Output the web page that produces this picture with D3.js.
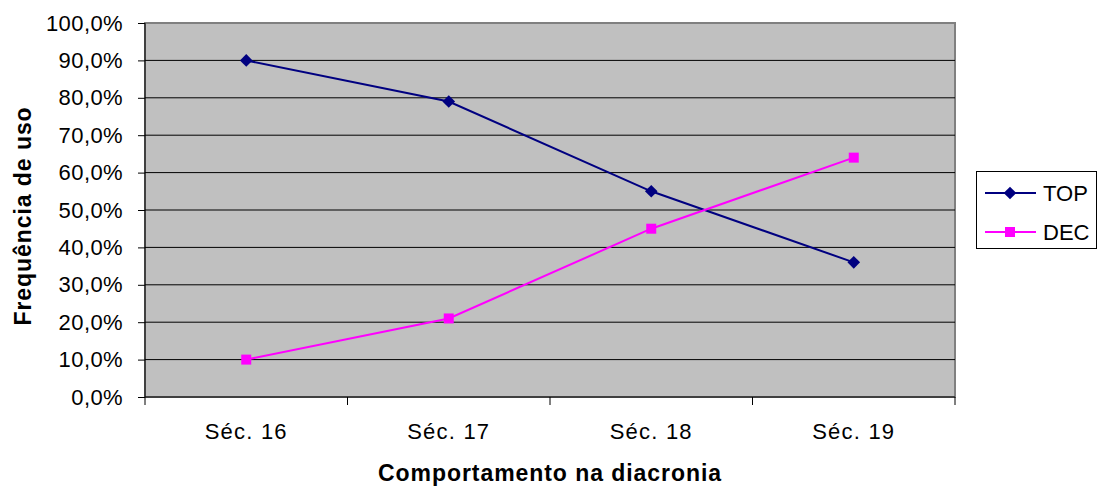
<!DOCTYPE html>
<html><head><meta charset="utf-8">
<script src="https://cdn.jsdelivr.net/npm/d3@7"></script>
<style>body{margin:0;background:#fff}svg{display:block}text{font-family:"Liberation Sans",Arial,sans-serif}</style>
</head><body>
<svg id="c" width="1100" height="490"></svg>
<script>
const categories = ["Séc. 16", "Séc. 17", "Séc. 18", "Séc. 19"];
const topValues = [90, 79, 55, 36];
const decValues = [10, 21, 45, 64];
const yTicks = [0,10,20,30,40,50,60,70,80,90,100];
const seriesNames = ["TOP", "DEC"];

const svg = d3.select("#c");
const L = 145, R = 955, T = 23, B = 397;
const x = d3.scaleBand().domain(categories).range([L, R]);
const y = d3.scaleLinear().domain([0, 100]).range([B, T]);
const fmt = v => v.toFixed(1).replace(".", ",") + "%";

svg.append("rect").attr("x", L).attr("y", T).attr("width", R - L).attr("height", B - T)
  .attr("fill", "#c0c0c0").attr("stroke", "#808080").attr("stroke-width", 2);

svg.append("g").selectAll("line").data(yTicks.filter(d => d > 0 && d < 100)).join("line")
  .attr("x1", L).attr("x2", R).attr("y1", d => y(d)).attr("y2", d => y(d))
  .attr("stroke", "#000").attr("stroke-width", 1);

// y axis
const ya = svg.append("g").attr("transform", `translate(${L},0)`)
  .call(d3.axisLeft(y).tickValues(yTicks).tickFormat(fmt).tickSize(7).tickPadding(15));
ya.select(".domain").attr("stroke", "#000").attr("d", `M0,${T}V${B}`);
ya.selectAll(".tick line").attr("stroke", "#000");
ya.selectAll("text").attr("font-size", 22).attr("fill", "#000").attr("letter-spacing", 0.4)
  .attr("font-family", "Liberation Sans, Arial, sans-serif");

// x axis
const xa = svg.append("g").attr("transform", `translate(0,${B})`)
  .call(d3.axisBottom(x).tickSize(0).tickPadding(26));
xa.select(".domain").attr("stroke", "#000").attr("d", `M${L},0H${R}`);
xa.selectAll("text").attr("font-size", 22).attr("fill", "#000").attr("letter-spacing", 1.2)
  .attr("font-family", "Liberation Sans, Arial, sans-serif");
const bounds = categories.map(c => x(c)).concat([R]);
svg.append("g").selectAll("line").data(bounds).join("line")
  .attr("x1", d => d).attr("x2", d => d).attr("y1", B).attr("y2", B + 8)
  .attr("stroke", "#000");

const cx = c => x(c) + x.bandwidth() / 2;
const line = d3.line().x((d, i) => cx(categories[i])).y(d => y(d));

svg.append("path").datum(topValues).attr("d", line).attr("fill", "none")
  .attr("stroke", "#000080").attr("stroke-width", 2);
svg.append("path").datum(decValues).attr("d", line).attr("fill", "none")
  .attr("stroke", "#ff00ff").attr("stroke-width", 2);

svg.append("g").selectAll("path").data(topValues).join("path")
  .attr("transform", (d, i) => `translate(${cx(categories[i])},${y(d)}) rotate(45)`)
  .attr("d", d3.symbol().type(d3.symbolSquare).size(80)).attr("fill", "#000080");
svg.append("g").selectAll("rect").data(decValues).join("rect")
  .attr("x", (d, i) => cx(categories[i]) - 5).attr("y", d => y(d) - 5)
  .attr("width", 10).attr("height", 10).attr("fill", "#ff00ff");

// axis titles
svg.append("text").attr("x", 550).attr("y", 481).attr("text-anchor", "middle")
  .attr("font-size", 23).attr("font-weight", "bold").attr("letter-spacing", 0.94)
  .text("Comportamento na diacronia");
svg.append("text").attr("transform", "translate(31,216) rotate(-90)").attr("text-anchor", "middle")
  .attr("font-size", 23).attr("font-weight", "bold").attr("letter-spacing", 0.94)
  .text("Frequência de uso");

// legend
const lg = svg.append("g");
lg.append("rect").attr("x", 976.5).attr("y", 171.5).attr("width", 120).attr("height", 77)
  .attr("fill", "#fff").attr("stroke", "#000");
const colors = ["#000080", "#ff00ff"];
seriesNames.forEach((n, i) => {
  const yy = 193 + i * 39;
  lg.append("line").attr("x1", 985).attr("x2", 1036).attr("y1", yy).attr("y2", yy)
    .attr("stroke", colors[i]).attr("stroke-width", 2);
  if (i === 0) lg.append("path").attr("transform", `translate(1010,${yy}) rotate(45)`)
    .attr("d", d3.symbol().type(d3.symbolSquare).size(80)).attr("fill", colors[i]);
  else lg.append("rect").attr("x", 1005).attr("y", yy - 5).attr("width", 10).attr("height", 10).attr("fill", colors[i]);
  lg.append("text").attr("x", 1043).attr("y", yy + 8).attr("font-size", 22).text(n);
});
</script>
</body></html>
